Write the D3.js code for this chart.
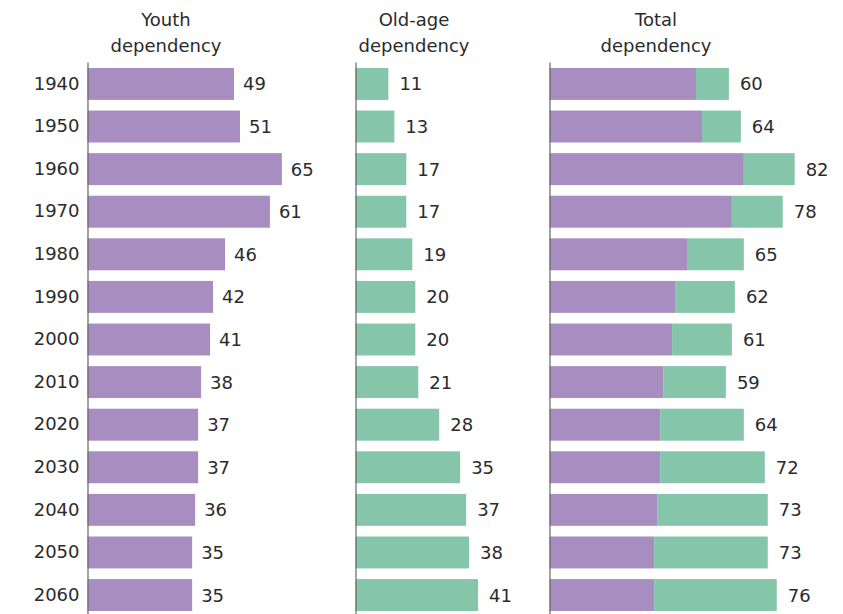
<!DOCTYPE html>
<html>
<head>
<meta charset="utf-8">
<script src="https://cdn.jsdelivr.net/npm/d3@7"></script>
<style>
  html, body { margin: 0; padding: 0; background: #fff; }
  svg { display: block; }
  text { font-family: "DejaVu Sans", sans-serif; fill: #2b2b2b; }
</style>
</head>
<body>
<svg id="chart" width="843" height="614"></svg>
<script>
const years = ["1940","1950","1960","1970","1980","1990","2000","2010","2020","2030","2040","2050","2060"];
const youth = [49, 51, 65, 61, 46, 42, 41, 38, 37, 37, 36, 35, 35];
const oldAge = [11, 13, 17, 17, 19, 20, 20, 21, 28, 35, 37, 38, 41];
const total = [60, 64, 82, 78, 65, 62, 61, 59, 64, 72, 73, 73, 76];
const panelTitles = [["Youth", "dependency"], ["Old-age", "dependency"], ["Total", "dependency"]];

const purple = "#a88dc0";
const green = "#85c6ab";
const FS = "18px";
const FONT = "'DejaVu Sans', sans-serif";

const svg = d3.select("#chart");

const y = d3.scaleBand()
  .domain(years)
  .range([62, 617])
  .paddingInner(0.25)
  .paddingOuter(0.14);

const unit = 2.99;
const panels = [
  { x0: 87.5, titleX: 166 },
  { x0: 355.5, titleX: 414 },
  { x0: 549.5, titleX: 656 }
];
const xs = panels.map(p => d3.scaleLinear().domain([0, 100]).range([p.x0, p.x0 + 100 * unit]));

const rows = years.map((yr, i) => ({ year: yr, youth: youth[i], old: oldAge[i], total: total[i] }));

// titles
panels.forEach((p, k) => {
  const t = svg.append("text")
    .attr("x", p.titleX)
    .attr("text-anchor", "middle")
    .style("font-size", FS);
  t.append("tspan").attr("x", p.titleX).attr("y", 26).text(panelTitles[k][0]);
  t.append("tspan").attr("x", p.titleX).attr("y", 52).text(panelTitles[k][1]);
});

// Panel 1: youth
const g1 = svg.append("g");
g1.selectAll("rect").data(rows).join("rect")
  .attr("x", xs[0](0))
  .attr("y", d => y(d.year))
  .attr("width", d => xs[0](d.youth) - xs[0](0))
  .attr("height", y.bandwidth())
  .attr("fill", purple);
g1.selectAll("text.val").data(rows).join("text")
  .attr("class", "val")
  .attr("x", d => xs[0](d.youth) + 9)
  .attr("y", d => y(d.year) + y.bandwidth() / 2)
  .attr("dy", "0.36em")
  .style("font-size", FS)
  .text(d => d.youth);

// Panel 2: old-age
const g2 = svg.append("g");
g2.selectAll("rect").data(rows).join("rect")
  .attr("x", xs[1](0))
  .attr("y", d => y(d.year))
  .attr("width", d => xs[1](d.old) - xs[1](0))
  .attr("height", y.bandwidth())
  .attr("fill", green);
g2.selectAll("text.val").data(rows).join("text")
  .attr("class", "val")
  .attr("x", d => xs[1](d.old) + 11)
  .attr("y", d => y(d.year) + y.bandwidth() / 2)
  .attr("dy", "0.36em")
  .style("font-size", FS)
  .text(d => d.old);

// Panel 3: total (stacked)
const stack = d3.stack().keys(["youth", "old"])(rows);
const g3 = svg.append("g");
g3.selectAll("g").data(stack).join("g")
  .attr("fill", (s, i) => i === 0 ? purple : green)
  .selectAll("rect").data(s => s).join("rect")
  .attr("x", d => xs[2](d[0]))
  .attr("y", d => y(d.data.year))
  .attr("width", d => xs[2](d[1]) - xs[2](d[0]))
  .attr("height", y.bandwidth());
g3.selectAll("text.val").data(rows).join("text")
  .attr("class", "val")
  .attr("x", d => xs[2](d.youth + d.old) + 11)
  .attr("y", d => y(d.year) + y.bandwidth() / 2)
  .attr("dy", "0.36em")
  .style("font-size", FS)
  .text(d => d.total);

// Axes
panels.forEach((p, k) => {
  const ax = d3.axisLeft(y).tickSize(0).tickSizeOuter(0).tickPadding(8);
  if (k > 0) ax.tickFormat(() => "");
  const ga = svg.append("g").attr("transform", `translate(${p.x0},0)`).call(ax);
  ga.select(".domain").attr("stroke", "#666").attr("stroke-width", 1.2);
  ga.selectAll("text")
    .style("font-family", FONT)
    .style("font-size", FS)
    .attr("fill", "#2b2b2b");
});
</script>
</body>
</html>
